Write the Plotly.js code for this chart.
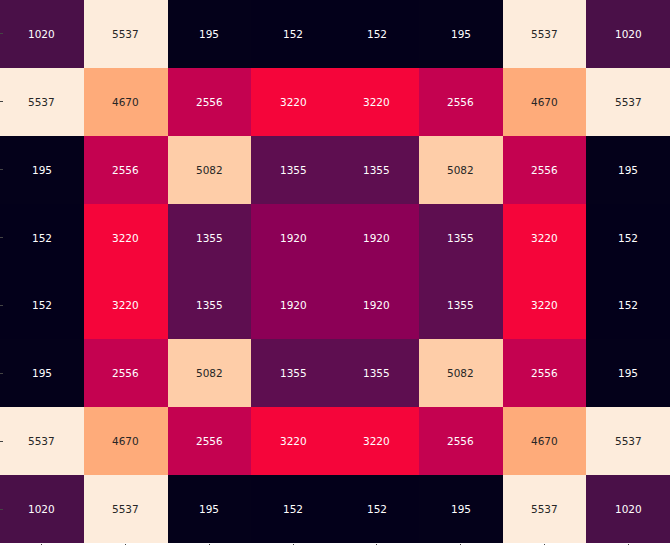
<!DOCTYPE html>
<html>
<head>
<meta charset="utf-8">
<script src="https://cdn.plot.ly/plotly-3.0.1.min.js"></script>
<style>html,body{margin:0;padding:0;background:#fff;}#chart{width:672px;height:545px;}</style>
</head>
<body>
<div id="chart"></div>
<script>
const xLabels = ['0','1','2','3','4','5','6','7'];
const yLabels = ['0','1','2','3','4','5','6','7'];
const row0 = [1020, 5537, 195, 152, 152, 195, 5537, 1020];
const row1 = [5537, 4670, 2556, 3220, 3220, 2556, 4670, 5537];
const row2 = [195, 2556, 5082, 1355, 1355, 5082, 2556, 195];
const row3 = [152, 3220, 1355, 1920, 1920, 1355, 3220, 152];
const row4 = [152, 3220, 1355, 1920, 1920, 1355, 3220, 152];
const row5 = [195, 2556, 5082, 1355, 1355, 5082, 2556, 195];
const row6 = [5537, 4670, 2556, 3220, 3220, 2556, 4670, 5537];
const row7 = [1020, 5537, 195, 152, 152, 195, 5537, 1020];
const z = [row0, row1, row2, row3, row4, row5, row6, row7];

// colour of each distinct value
const levelValues = [152, 195, 1020, 1355, 1920, 2556, 3220, 4670, 5082, 5537];
const levelColors = ['#03001A', '#04011A', '#4A1048', '#5E0E50', '#8C0056', '#C40250', '#F5053A', '#FEAB7A', '#FECDA8', '#FDECDC'];
const zmin = Math.min(...levelValues), zmax = Math.max(...levelValues);
const colorscale = levelValues.map((v, i) => [(v - zmin) / (zmax - zmin), levelColors[i]]);
const lightText = new Set([4670, 5082, 5537]);

const annotations = [];
z.forEach((row, r) => row.forEach((v, c) => {
  annotations.push({
    x: xLabels[c], y: yLabels[r], xref: 'x', yref: 'y', text: String(v), showarrow: false,
    font: {family: 'DejaVu Sans', size: 10.5, color: lightText.has(v) ? '#262626' : '#ffffff'}
  });
}));

Plotly.newPlot('chart', [{
  type: 'heatmap', x: xLabels, y: yLabels, z: z,
  zmin: zmin, zmax: zmax, colorscale: colorscale, showscale: false, hoverinfo: 'none'
}], {
  width: 672, height: 545,
  margin: {l: 0, r: 2, t: 0, b: 2, pad: 0},
  paper_bgcolor: '#ffffff', plot_bgcolor: '#ffffff',
  xaxis: {type: 'category', showgrid: false, zeroline: false, showticklabels: false,
          ticks: 'outside', ticklen: 3, tickcolor: '#444', tickwidth: 1, showline: false},
  yaxis: {type: 'category', autorange: 'reversed', showgrid: false, zeroline: false, showticklabels: false,
          ticks: 'inside', ticklen: 3, tickcolor: '#444', tickwidth: 1, showline: false},
  annotations: annotations,
  font: {family: 'DejaVu Sans'}
}, {displayModeBar: false, staticPlot: true});
</script>
</body>
</html>
